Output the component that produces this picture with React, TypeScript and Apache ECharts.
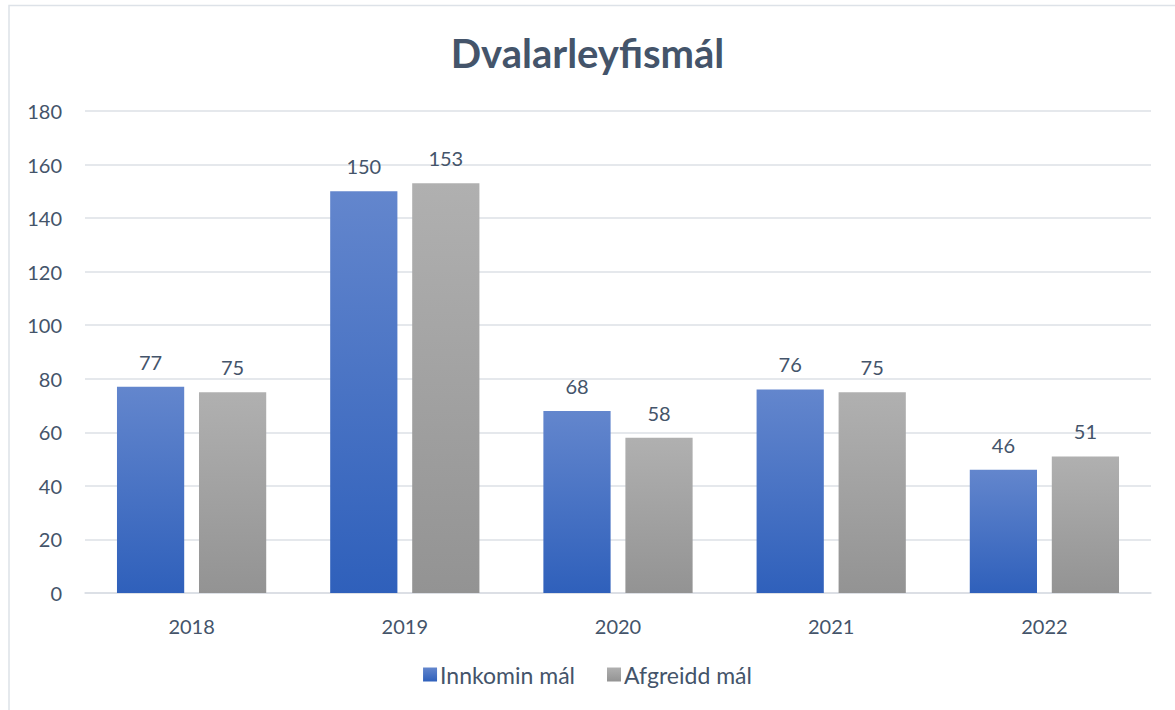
import React, { useEffect, useRef } from "react";
import * as echarts from "echarts";

const years = ["2018", "2019", "2020", "2021", "2022"];
const innkomin = [77, 150, 68, 76, 46];
const afgreidd = [75, 153, 58, 75, 51];
const seriesNames = ["Innkomin mál", "Afgreidd mál"];
const titleText = "Dvalarleyfismál";

const FONT = "Lato, 'Open Sans', sans-serif";
const TEXT = "#44546a";

export default function App() {
  const ref = useRef<HTMLDivElement>(null);
  useEffect(() => {
    if (!ref.current) return;
    const chart = echarts.init(ref.current, null, { renderer: "svg" });
    const blue = new echarts.graphic.LinearGradient(0, 0, 0, 1, [
      { offset: 0, color: "#6386cd" },
      { offset: 1, color: "#2f60bb" },
    ]);
    const gray = new echarts.graphic.LinearGradient(0, 0, 0, 1, [
      { offset: 0, color: "#b0b0b0" },
      { offset: 1, color: "#939393" },
    ]);
    const labelStyle = { show: true, position: "top", distance: 15, fontFamily: FONT, fontSize: 20, color: TEXT };
    chart.setOption({
      animation: false,
      backgroundColor: "#ffffff",
      textStyle: { fontFamily: FONT, color: TEXT },
      title: {
        text: titleText,
        left: "center",
        top: 28,
        textStyle: { fontFamily: FONT, fontSize: 40, fontWeight: "bold", color: TEXT },
      },
      graphic: [
        {
          type: "rect",
          shape: { x: 9, y: 5.5, width: 1180, height: 720 },
          style: { fill: "none", stroke: "#dde2e8", lineWidth: 1.5 },
          silent: true,
        },
      ],
      legend: {
        bottom: 19,
        left: "center",
        itemWidth: 14,
        itemHeight: 14,
        itemGap: 32,
        icon: "rect",
        textStyle: { fontFamily: FONT, fontSize: 23, color: TEXT, padding: [0, 0, 0, -2] },
        data: seriesNames,
      },
      grid: { left: 85, right: 24, top: 111, bottom: 117, containLabel: false },
      xAxis: {
        type: "category",
        data: years,
        axisLine: { show: true, lineStyle: { color: "#d9dde3", width: 1.5 } },
        axisTick: { show: false },
        axisLabel: { fontFamily: FONT, fontSize: 20, color: TEXT, margin: 23 },
      },
      yAxis: {
        type: "value",
        min: 0,
        max: 180,
        interval: 20,
        axisLine: { show: false },
        axisTick: { show: false },
        splitLine: { lineStyle: { color: "#dde1e6", width: 1.5 } },
        axisLabel: { fontFamily: FONT, fontSize: 20, color: TEXT, margin: 23 },
      },
      series: [
        {
          name: seriesNames[0],
          type: "bar",
          data: innkomin,
          barGap: "22%",
          barCategoryGap: "30%",
          itemStyle: { color: blue },
          label: labelStyle,
        },
        {
          name: seriesNames[1],
          type: "bar",
          data: afgreidd,
          barGap: "22%",
          barCategoryGap: "30%",
          itemStyle: { color: gray },
          label: labelStyle,
        },
      ],
    });
    return () => chart.dispose();
  }, []);
  return (
    <div
      ref={ref}
      style={{ position: "fixed", left: 0, top: 0, width: 1175, height: 710 }}
    />
  );
}
